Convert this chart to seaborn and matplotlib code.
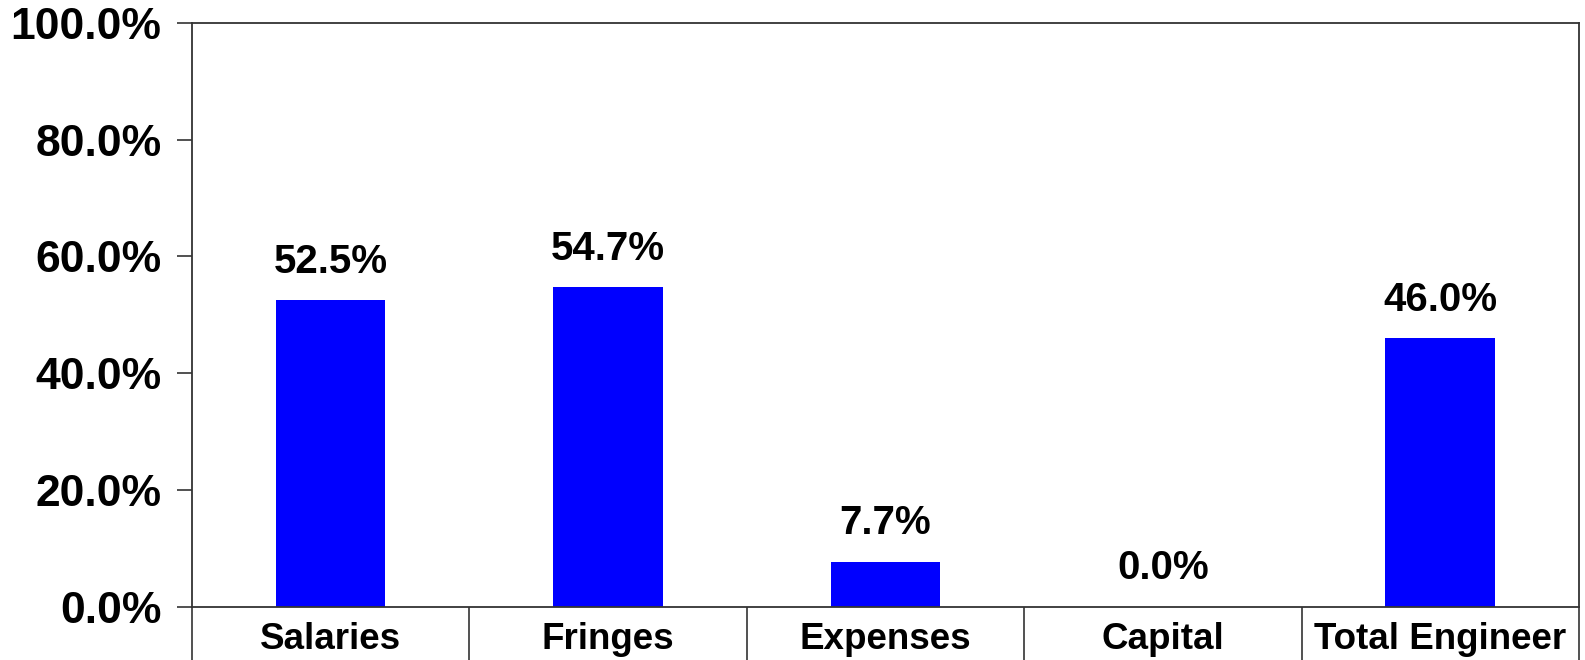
import matplotlib
matplotlib.use("Agg")
import matplotlib.pyplot as plt
import seaborn as sns
import pandas as pd
from matplotlib.ticker import FuncFormatter, FixedLocator

categories = ["Salaries", "Fringes", "Expenses", "Capital", "Total Engineer"]
values = [0.525, 0.547, 0.077, 0.0, 0.460]
yticks = [0.0, 0.2, 0.4, 0.6, 0.8, 1.0]

sns.set_theme(style="white")
plt.rcParams['font.family'] = ['Liberation Sans', 'DejaVu Sans']

df = pd.DataFrame({"category": categories, "value": values})

fig = plt.figure(figsize=(15.85, 6.6), dpi=100)
ax = fig.add_axes([0.1211, 0.081, 0.9962 - 0.1211, 0.965 - 0.081])

sns.barplot(data=df, x="category", y="value", color="#0000FF", saturation=1,
            width=0.395, ax=ax, edgecolor="none")

ax.set_ylim(0, 1)
ax.set_xlim(-0.5, len(categories) - 0.5)
ax.set_yticks(yticks)
ax.yaxis.set_major_formatter(FuncFormatter(lambda v, p: f"{v*100:.1f}%"))
ax.set_xlabel("")
ax.set_ylabel("")

for lbl in ax.get_yticklabels():
    lbl.set_fontsize(32)
    lbl.set_fontweight("bold")
    lbl.set_color("black")
for lbl in ax.get_xticklabels():
    lbl.set_fontsize(26.5)
    lbl.set_fontweight("bold")
    lbl.set_color("black")

ax.tick_params(axis="y", which="major", direction="out", length=11, width=1.2,
               color="#333333", pad=11, left=True)
ax.tick_params(axis="x", which="major", length=0, pad=11, bottom=True)
ax.xaxis.set_minor_locator(FixedLocator([i - 0.5 for i in range(len(categories) + 1)]))
ax.tick_params(axis="x", which="minor", direction="out", length=40, width=1.2,
               color="#333333", bottom=True)

for side in ["left", "right", "top", "bottom"]:
    ax.spines[side].set_visible(True)
    ax.spines[side].set_color("#333333")
    ax.spines[side].set_linewidth(1.3)

for i, v in enumerate(values):
    ax.annotate(f"{v*100:.1f}%", xy=(i, v), xytext=(0, 14), textcoords="offset points",
                ha="center", va="bottom", fontsize=29, fontweight="bold", color="black")

fig.savefig("out.png", dpi=100, facecolor="white")
